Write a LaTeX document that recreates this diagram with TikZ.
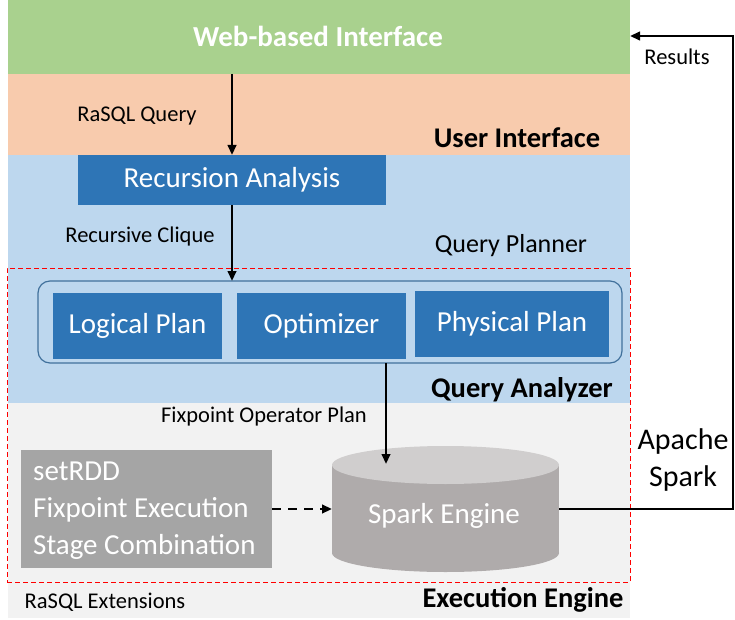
\documentclass[tikz,border=0pt]{standalone}
\usepackage{fontspec}
\setmainfont{Carlito}
\usetikzlibrary{arrows.meta,calc}
\definecolor{cgreen}{HTML}{A9D18E}
\definecolor{cpeach}{HTML}{F8CBAD}
\definecolor{clblue}{HTML}{BDD7EE}
\definecolor{cgreyband}{HTML}{F2F2F2}
\definecolor{cdblue}{HTML}{2E75B6}
\definecolor{cgbox}{HTML}{A5A5A5}
\definecolor{ccyl}{HTML}{AFABAB}
\definecolor{ccyltop}{HTML}{D0CECE}
\definecolor{cframe}{HTML}{41719C}
\tikzset{
  band/.style={inner sep=0pt, outer sep=0pt},
  bluebox/.style={fill=cdblue, text=white, inner sep=0pt, outer sep=0pt, font=\fontsize{29}{34}\selectfont},
  lbl/.style={inner sep=0pt, font=\fontsize{22.5}{27}\selectfont},
  title/.style={inner sep=0pt, font=\fontsize{28.5}{34}\selectfont\bfseries},
  arr/.style={line width=2.3pt, -{Triangle[length=10pt,width=8.5pt]}},
}
\begin{document}
\begin{tikzpicture}[x=1pt,y=-1pt]
\useasboundingbox (0,0) rectangle (735,620);
% bands
\node[band, fill=cgreen, minimum width=622pt, minimum height=74pt, anchor=north west] (web) at (8,0) {};
\node[band, fill=cpeach, minimum width=622pt, minimum height=81pt, anchor=north west] (ui) at (8,74) {};
\node[band, fill=clblue, minimum width=622pt, minimum height=248pt, anchor=north west] (qp) at (8,155) {};
\node[band, fill=cgreyband, minimum width=622pt, minimum height=215pt, anchor=north west] (ee) at (8,403) {};
\node[text=white, inner sep=0pt, font=\fontsize{29}{34}\selectfont\bfseries] (webt) at (318,36) {Web-based Interface};
\node[lbl] (rq) at (137,116) {RaSQL Query};
\node[title] (uit) at (517,138) {User Interface};
% recursion analysis
\node[bluebox, minimum width=308pt, minimum height=50pt] (ra) at (232,180) {Recursion Analysis};
\node[lbl] (rc) at (140,237) {Recursive Clique};
\node[inner sep=0pt, font=\fontsize{26}{31}\selectfont] (qpt) at (511,246) {Query Planner};
% red dashed frame
\node[draw=red, line width=1pt, dash pattern=on 5pt off 3pt, band, minimum width=623pt, minimum height=314pt, anchor=north west] (frame) at (7,268) {};
% plans container
\node[draw=cframe, line width=1.2pt, rounded corners=12pt, band, minimum width=584pt, minimum height=82pt, anchor=north west] (plans) at (38,281) {};
\node[bluebox, minimum width=169pt, minimum height=66pt, anchor=north west] (lp) at (53,293) {Logical Plan};
\node[bluebox, minimum width=169pt, minimum height=66pt, anchor=north west] (opt) at (237,293) {Optimizer};
\node[bluebox, minimum width=194pt, minimum height=66pt, anchor=north west] (pp) at (415,291) {Physical Plan};
\node[title] (qat) at (522,390) {Query Analyzer};
\node[lbl] (fop) at (264,416) {Fixpoint Operator Plan};
% extensions box
\node[fill=cgbox, text=white, band, minimum width=251pt, minimum height=118pt, anchor=north west] (ext) at (21,450) {};
\node[text=white, align=left, anchor=west, inner sep=0pt, font=\fontsize{29}{37}\selectfont] (extt) at (33,511) {setRDD\\Fixpoint Execution\\Stage Combination};
% cylinder
\node[band, minimum width=227pt, minimum height=126pt] (spark) at (445.5,509) {};
\fill[ccyl] (332,465) rectangle (559,553);
\fill[ccyl] (445.5,553) ellipse (113.5pt and 19pt);
\fill[ccyltop] (445.5,465) ellipse (113.5pt and 19pt);
\node[text=white, inner sep=0pt, font=\fontsize{29}{34}\selectfont] (sparkt) at (444,516) {Spark Engine};
% labels bottom
\node[lbl] (rext) at (105,602) {RaSQL Extensions};
\node[title] (eet) at (523,600) {Execution Engine};
\node[lbl] (res) at (677,57) {Results};
\node[align=center, inner sep=0pt, font=\fontsize{30}{37}\selectfont] (aps) at (683,460) {Apache\\Spark};
% connectors
\draw[arr] (ra.north |- web.south) -- (ra.north);
\draw[arr] (ra.south) -- (ra.south |- plans.north);
\coordinate (qx) at (386,0);
\coordinate (cyltop) at (386,464);
\draw[arr] (qx |- plans.south) -- (cyltop);
\draw[line width=2.8pt, dash pattern=on 9pt off 7pt, -{Triangle[length=10pt,width=8.5pt]}] (ext.east |- spark.west) -- (spark.west);
\coordinate (rc1) at (733,0);
\draw[arr] (spark.east) -- (rc1 |- spark.east) -- (rc1 |- webt) -- (web.east |- webt);
\end{tikzpicture}
\end{document}
